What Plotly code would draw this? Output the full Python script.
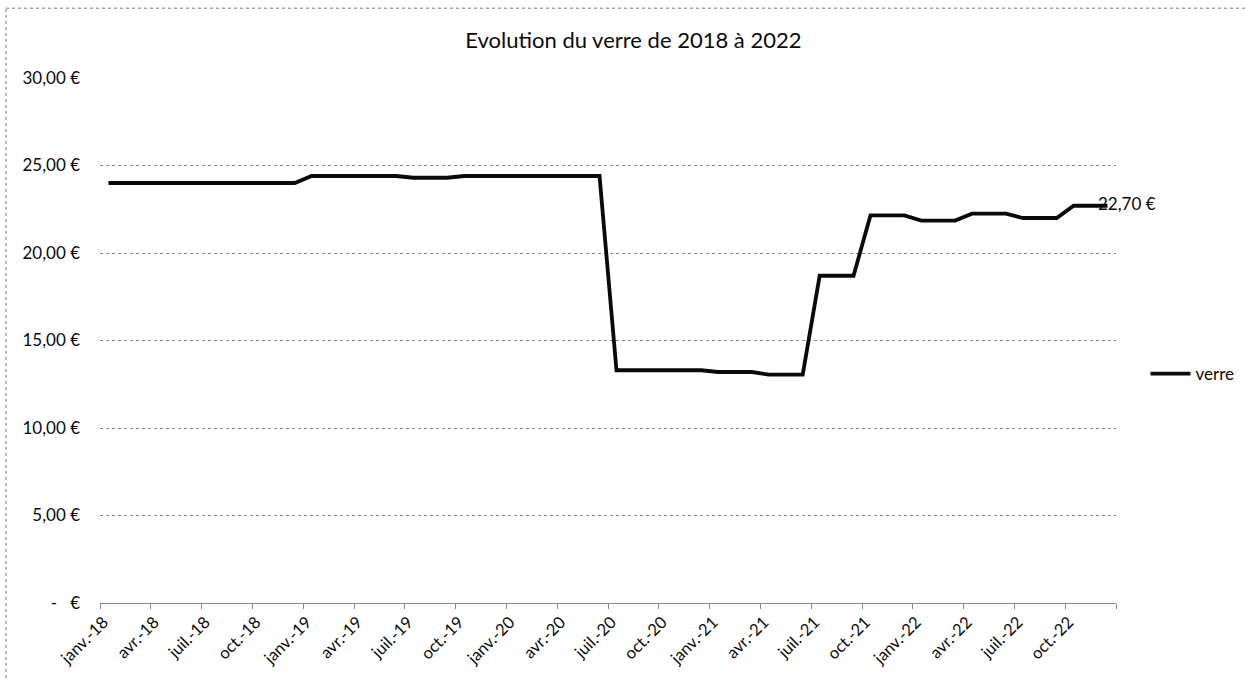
import plotly.graph_objects as go

months = [
    "janv.-18", "févr.-18", "mars-18", "avr.-18", "mai-18", "juin-18", "juil.-18", "août-18", "sept.-18", "oct.-18", "nov.-18", "déc.-18",
    "janv.-19", "févr.-19", "mars-19", "avr.-19", "mai-19", "juin-19", "juil.-19", "août-19", "sept.-19", "oct.-19", "nov.-19", "déc.-19",
    "janv.-20", "févr.-20", "mars-20", "avr.-20", "mai-20", "juin-20", "juil.-20", "août-20", "sept.-20", "oct.-20", "nov.-20", "déc.-20",
    "janv.-21", "févr.-21", "mars-21", "avr.-21", "mai-21", "juin-21", "juil.-21", "août-21", "sept.-21", "oct.-21", "nov.-21", "déc.-21",
    "janv.-22", "févr.-22", "mars-22", "avr.-22", "mai-22", "juin-22", "juil.-22", "août-22", "sept.-22", "oct.-22", "nov.-22", "déc.-22",
]

verre = [
    24.00, 24.00, 24.00, 24.00, 24.00, 24.00, 24.00, 24.00, 24.00, 24.00, 24.00, 24.00,
    24.40, 24.40, 24.40, 24.40, 24.40, 24.40, 24.30, 24.30, 24.30, 24.40, 24.40, 24.40,
    24.40, 24.40, 24.40, 24.40, 24.40, 24.40, 13.30, 13.30, 13.30, 13.30, 13.30, 13.30,
    13.20, 13.20, 13.20, 13.05, 13.05, 13.05, 18.70, 18.70, 18.70, 22.15, 22.15, 22.15,
    21.85, 21.85, 21.85, 22.25, 22.25, 22.25, 22.00, 22.00, 22.00, 22.70, 22.70, 22.70,
]

y_ticks = [0, 5, 10, 15, 20, 25, 30]
y_ticktext = ["-\u00a0\u00a0\u00a0€", "5,00 €", "10,00 €", "15,00 €", "20,00 €", "25,00 €", "30,00 €"]

title_text = "Evolution du verre de 2018 à 2022"
series_name = "verre"
last_label = "22,70 €"

x_idx = list(range(len(months)))
label_idx = x_idx[::3]
label_text = months[::3]
boundaries = [i - 0.5 for i in x_idx[::3]] + [len(months) - 0.5]

FONT = "Lato, Carlito, Calibri, sans-serif"
INK = "#0a0a0a"

fig = go.Figure()
fig.add_trace(go.Scatter(
    x=x_idx, y=verre, mode="lines", name=series_name,
    line=dict(color=INK, width=3.8),
))

fig.add_annotation(
    x=x_idx[-1], y=verre[-1], text=last_label, showarrow=False,
    xanchor="left", yanchor="middle", xshift=-12, yshift=2,
    font=dict(family=FONT, size=17, color=INK),
)

# outer chart border (top and left edges, dotted)
fig.add_shape(type="line", xref="paper", yref="paper",
              x0=-0.0925, x1=1.2, y0=1.133, y1=1.133,
              line=dict(color="#777777", width=1, dash="dot"))
fig.add_shape(type="line", xref="paper", yref="paper",
              x0=-0.0925, x1=-0.0925, y0=-0.2, y1=1.133,
              line=dict(color="#777777", width=1, dash="dot"))

fig.update_layout(
    width=1245, height=681,
    margin=dict(l=100, r=129, t=78, b=78, autoexpand=False),
    paper_bgcolor="white", plot_bgcolor="white",
    font=dict(family=FONT, size=15, color=INK),
    title=dict(text=title_text, x=0.525, xanchor="center", xref="paper",
               y=1 - 40 / 681, yanchor="middle", yref="container",
               font=dict(family=FONT, size=22, color=INK)),
    showlegend=True,
    legend=dict(x=1.029, xanchor="left", y=0.436, yanchor="middle",
                font=dict(family=FONT, size=17, color=INK),
                bgcolor="rgba(0,0,0,0)", itemwidth=40, tracegroupgap=0),
)

fig.update_xaxes(
    range=[-0.5, len(months) - 0.5],
    tickmode="array", tickvals=label_idx, ticktext=label_text,
    tickangle=-45, ticks="", showgrid=False, zeroline=False,
    showline=True, linecolor="#888888", linewidth=1,
    ticklabelshift=-5, ticklabelstandoff=2,
    tickfont=dict(family=FONT, size=16.5, color=INK),
    minor=dict(tickmode="array", tickvals=boundaries, ticks="outside",
               ticklen=5, tickcolor="#888888", showgrid=False),
)

fig.update_yaxes(
    range=[0, 30], tickmode="array", tickvals=y_ticks, ticktext=y_ticktext,
    showgrid=True, gridcolor="#888888", gridwidth=1, griddash="dot",
    zeroline=False, showline=False, ticks="",
    ticklabelstandoff=19,
    tickfont=dict(family=FONT, size=17, color=INK),
)

fig.write_html(
    "out.html",
    config={"displayModeBar": False},
    post_script="document.body.style.margin='0';document.body.style.overflow='hidden';",
)
